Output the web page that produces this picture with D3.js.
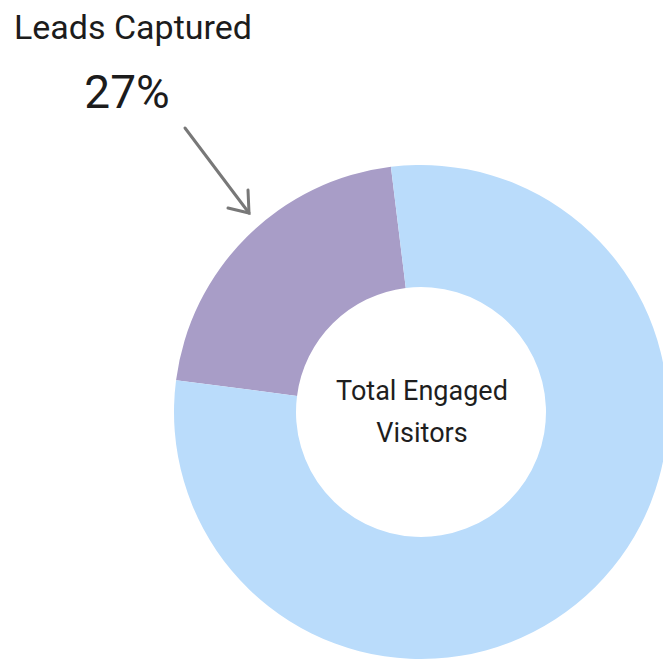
<!DOCTYPE html>
<html>
<head>
<meta charset="utf-8">
<script src="https://cdn.jsdelivr.net/npm/d3@7"></script>
<style>
  html, body { margin: 0; padding: 0; background: #fff; }
  #chart { width: 663px; height: 660px; overflow: hidden; }
</style>
</head>
<body>
<div id="chart"></div>
<script>
// donut segments (purple wedge is ~21% of the ring)
const segments = ["Leads Captured", "Other Engaged Visitors"];
const shares = [21, 79];
const colors = ["#a89dc7", "#badcfb"];

// annotation texts
const calloutTitle = "Leads Captured";
const calloutValue = "27%";
const centerLines = ["Total Engaged", "Visitors"];

document.addEventListener('DOMContentLoaded', () => {
    const width = 663;
    const height = 660;
    const cx = 421, cy = 412;
    const outerR = 247, innerR = 125;
    const start = -82.6 * Math.PI / 180;

    const svg = d3.select("#chart")
        .append("svg")
        .attr("width", width)
        .attr("height", height)
        .attr("viewBox", [0, 0, width, height]);

    const pie = d3.pie()
        .sort(null)
        .value(d => d.value)
        .startAngle(start)
        .endAngle(start + 2 * Math.PI);

    const arc = d3.arc()
        .innerRadius(innerR)
        .outerRadius(outerR);

    const data = segments.map((s, i) => ({ name: s, value: shares[i] }));

    svg.append("g")
        .attr("transform", `translate(${cx},${cy})`)
        .selectAll("path")
        .data(pie(data))
        .join("path")
        .attr("d", arc)
        .attr("fill", (d, i) => colors[i]);

    // center label
    svg.append("g")
        .selectAll("text")
        .data(centerLines)
        .join("text")
        .attr("x", cx + 1)
        .attr("y", (d, i) => 400 + i * 42)
        .attr("text-anchor", "middle")
        .attr("font-family", "Roboto, sans-serif")
        .attr("font-size", "27px")
        .attr("fill", "#1e1e1e")
        .text(d => d);

    // callout
    svg.append("text")
        .attr("x", 133)
        .attr("y", 39)
        .attr("text-anchor", "middle")
        .attr("font-family", "Roboto, sans-serif")
        .attr("font-size", "34px")
        .attr("fill", "#1c1c1c")
        .text(calloutTitle);

    svg.append("text")
        .attr("x", 127)
        .attr("y", 108)
        .attr("text-anchor", "middle")
        .attr("font-family", "Roboto, sans-serif")
        .attr("font-size", "46px")
        .attr("fill", "#1c1c1c")
        .text(calloutValue);

    // arrow pointing at the purple wedge
    const arrow = svg.append("g")
        .attr("stroke", "#787878")
        .attr("stroke-width", 3)
        .attr("stroke-linecap", "round")
        .attr("fill", "none");

    arrow.append("line")
        .attr("x1", 185).attr("y1", 128)
        .attr("x2", 249).attr("y2", 213);

    arrow.append("polyline")
        .attr("points", "228,208 249,213 248,190")
        .attr("stroke-linejoin", "miter");
});
</script>
</body>
</html>
